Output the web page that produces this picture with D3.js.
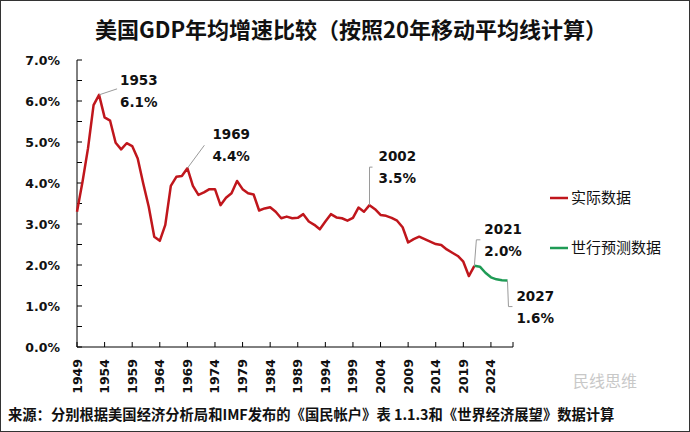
<!DOCTYPE html>
<html><head><meta charset="utf-8">
<script src="https://cdn.jsdelivr.net/npm/d3@7/dist/d3.min.js"></script>
<style>
html,body{margin:0;padding:0;background:#fff;}
svg{display:block;}
</style></head>
<body><div id="chart"></div>
<script>
const title = "美国GDP年均增速比较（按照20年移动平均线计算）";
const source = "来源：分别根据美国经济分析局和IMF发布的《国民帐户》表 1.1.3和《世界经济展望》数据计算";
const actualYears = d3.range(1949, 2022);
const actualValues = [3.30,4.03,4.85,5.90,6.15,5.60,5.52,4.98,4.82,4.97,4.90,4.60,3.99,3.42,2.69,2.59,2.98,3.93,4.15,4.17,
  4.36,3.93,3.71,3.77,3.85,3.85,3.46,3.64,3.75,4.05,3.85,3.75,3.72,3.33,3.38,3.41,3.30,3.14,3.18,3.14,
  3.15,3.24,3.06,2.98,2.87,3.06,3.24,3.16,3.14,3.08,3.15,3.40,3.30,3.46,3.36,3.22,3.20,3.15,3.08,2.92,
  2.55,2.63,2.69,2.63,2.57,2.51,2.49,2.38,2.30,2.22,2.08,1.73,1.98];
const forecastYears = d3.range(2021, 2028);
const forecastValues = [1.98,1.96,1.81,1.70,1.65,1.63,1.62];
const yTicks = [0,1,2,3,4,5,6,7];
const yMinorTicks = [0.5,1.5,2.5,3.5,4.5,5.5,6.5];
const xTicks = d3.range(1949, 2025, 5);
const seriesNames = ["实际数据", "世行预测数据"];
const seriesColors = ["#C0161C", "#1F9B55"];
const annotYears = [1953, 1969, 2002, 2021, 2027];
const annotLabels = ["6.1%", "4.4%", "3.5%", "2.0%", "1.6%"];

const W = 690, H = 432;
const svg = d3.select("#chart").append("svg").attr("width", W).attr("height", H);
svg.append("rect").attr("x",0.5).attr("y",0.5).attr("width",W-1).attr("height",H-1)
  .attr("fill","#fff").attr("stroke","#333").attr("stroke-width",1);

const x = d3.scaleLinear().domain([1949, 2028]).range([77, 513]);
const y = d3.scaleLinear().domain([0, 7]).range([347, 60]);

svg.append("text").attr("x", 351).attr("y", 38).attr("text-anchor","middle")
  .attr("font-family","'Noto Sans CJK SC', sans-serif").attr("font-size",22).attr("font-weight","bold")
  .attr("fill","#111").text(title);

// y axis
const yAxis = svg.append("g").attr("transform","translate(77,0)");
yAxis.append("line").attr("x1",0).attr("x2",0).attr("y1",y(7)).attr("y2",y(0)).attr("stroke","#000");
yAxis.selectAll(".yt").data(yTicks.concat(yMinorTicks)).join("line")
  .attr("x1",0).attr("x2",5).attr("y1",d=>y(d)).attr("y2",d=>y(d)).attr("stroke","#000");
yAxis.selectAll(".yl").data(yTicks).join("text")
  .attr("x",-17).attr("y",d=>y(d)).attr("dy","0.36em").attr("text-anchor","end")
  .attr("font-family","'DejaVu Sans', sans-serif").attr("font-weight","bold").attr("font-size",12.5)
  .attr("fill","#111").text(d=>d.toFixed(1)+"%");

// x axis
const xAxis = svg.append("g").attr("transform",`translate(0,${y(0)})`);
xAxis.append("line").attr("x1",x(1949)).attr("x2",x(2028)).attr("y1",0).attr("y2",0).attr("stroke","#000");
xAxis.selectAll(".xt").data(xTicks.concat([2028])).join("line")
  .attr("x1",d=>x(d)).attr("x2",d=>x(d)).attr("y1",0).attr("y2",-5).attr("stroke","#000");
xAxis.selectAll(".xl").data(xTicks).join("text")
  .attr("transform",d=>`translate(${x(d)},12) rotate(-90)`)
  .attr("text-anchor","end").attr("dy","0.36em")
  .attr("font-family","'DejaVu Sans', sans-serif").attr("font-weight","bold").attr("font-size",12.5)
  .attr("fill","#111").text(d=>d);

// lines
const line = d3.line().x(d=>x(d[0])).y(d=>y(d[1]));
svg.append("path").datum(actualYears.map((yr,i)=>[yr,actualValues[i]]))
  .attr("d",line).attr("fill","none").attr("stroke",seriesColors[0]).attr("stroke-width",2.5)
  .attr("stroke-linejoin","round");
svg.append("path").datum(forecastYears.map((yr,i)=>[yr,forecastValues[i]]))
  .attr("d",line).attr("fill","none").attr("stroke",seriesColors[1]).attr("stroke-width",2.5)
  .attr("stroke-linejoin","round");

// annotations
function valOf(yr){
  const i = actualYears.indexOf(yr);
  if (i >= 0) return actualValues[i];
  return forecastValues[forecastYears.indexOf(yr)];
}
const annotStyle = [
  {pts:[[0,0],[18,-6]], tx:21, ty:-10},
  {pts:[[0,0],[17,-23]], tx:25, ty:-29},
  {pts:[[0,0],[0,-38],[3,-38]], tx:9, ty:-44},
  {pts:[[0,0],[2,-26],[6,-26]], tx:10, ty:-32},
  {pts:[[0,0],[1,26],[5,26]], tx:9, ty:20},
];
const ann = svg.append("g");
annotYears.forEach((yr,i)=>{
  const px = x(yr), py = y(valOf(yr)), s = annotStyle[i];
  ann.append("path").attr("d", d3.line()(s.pts.map(p=>[px+p[0],py+p[1]])))
    .attr("fill","none").attr("stroke","#9a9a9a").attr("stroke-width",1);
  const t = ann.append("text").attr("x",px+s.tx).attr("y",py+s.ty)
    .attr("font-family","'DejaVu Sans', sans-serif").attr("font-weight","bold").attr("font-size",13.5)
    .attr("fill","#111");
  t.append("tspan").attr("x",px+s.tx).attr("dy",0).text(yr);
  t.append("tspan").attr("x",px+s.tx).attr("dy",22).text(annotLabels[i]);
});

// legend
const leg = svg.append("g");
seriesNames.forEach((n,i)=>{
  const ly = 198 + i*50;
  leg.append("line").attr("x1",550).attr("x2",568).attr("y1",ly).attr("y2",ly)
    .attr("stroke",seriesColors[i]).attr("stroke-width",2.5);
  leg.append("text").attr("x",571).attr("y",ly).attr("dy","0.36em")
    .attr("font-family","'Noto Sans CJK SC', sans-serif").attr("font-size",15).attr("fill","#111").text(n);
});

// watermark
svg.append("text").attr("x",605).attr("y",387).attr("text-anchor","middle")
  .attr("font-family","'Noto Sans CJK SC', sans-serif").attr("font-size",16).attr("fill","#bbb").attr("opacity",0.8)
  .text("民线思维");

// source
svg.append("text").attr("x",8).attr("y",420)
  .attr("font-family","'Noto Sans CJK SC', sans-serif").attr("font-weight","bold").attr("font-size",14.3)
  .attr("fill","#111").text(source);
</script></body></html>
